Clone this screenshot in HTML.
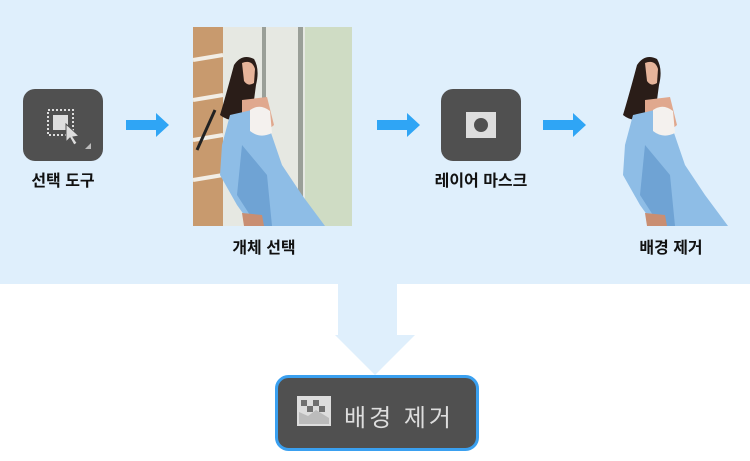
<!DOCTYPE html>
<html><head><meta charset="utf-8"><style>
html,body{margin:0;padding:0;background:#fff}
body{width:750px;height:461px;position:relative;overflow:hidden;font-family:"Liberation Sans","Noto Sans CJK KR",sans-serif}
.lbl{position:absolute;font-size:16px;font-weight:bold;color:#111;text-align:center;width:160px}
</style></head><body>
<svg width="750" height="461" style="position:absolute;left:0;top:0">
<defs>
<g id="fig">
 <path d="M22,10 Q30,-2 42,4 Q48,14 44,30 L40,60 Q20,70 8,60 Q14,40 22,10Z" fill="#2a1d18"/>
 <path d="M30,8 Q40,4 43,14 L42,28 Q36,32 32,26Z" fill="#e6b49a"/>
 <path d="M30,45 L55,42 L62,70 L50,80 L30,75Z" fill="#e0a88e"/>
 <path d="M18,60 L40,55 L58,75 L70,110 L90,140 L113,171 L40,171 L25,150 L8,120 L10,90Z" fill="#8ebde6"/>
 <path d="M30,90 L55,120 L60,171 L45,171 L25,140Z" fill="#6fa3d4"/>
 <path d="M38,55 Q48,48 58,56 L60,78 Q48,84 38,76Z" fill="#f4f1ee"/>
 <path d="M30,158 L50,160 L52,171 L32,171Z" fill="#c98e72"/>
</g>
</defs>
<rect x="0" y="0" width="750" height="284" fill="#dfeffc"/>
<rect x="23" y="89" width="80" height="72" rx="12" fill="#505050"/>
<rect x="48" y="110" width="25" height="25" fill="none" stroke="#ddd" stroke-width="2" stroke-dasharray="2,2"/>
<rect x="53" y="115" width="15" height="15" fill="#ddd"/>
<path d="M66,124 L66,142 L70,138 L74,145 L77,143 L73,137 L79,136Z" fill="#ddd" stroke="#505050" stroke-width="1"/>
<path d="M91,149 L91,143 L85,149Z" fill="#bbb"/>
<g fill="#2fa5f5">
<path d="M126,120 L156,120 L156,113 L169,125 L156,137 L156,130 L126,130Z"/>
<path d="M377,120 L407,120 L407,113 L420,125 L407,137 L407,130 L377,130Z"/>
<path d="M543,120 L573,120 L573,113 L586,125 L573,137 L573,130 L543,130Z"/>
</g>
<rect x="193" y="27" width="159" height="199" fill="#e6e8e2"/>
<rect x="193" y="27" width="30" height="199" fill="#c89a6e"/>
<g stroke="#f2eee6" stroke-width="4"><line x1="193" y1="60" x2="223" y2="55"/><line x1="193" y1="100" x2="223" y2="95"/><line x1="193" y1="140" x2="223" y2="135"/><line x1="193" y1="180" x2="223" y2="175"/></g>
<rect x="305" y="27" width="47" height="199" fill="#cfdcc4"/>
<rect x="262" y="27" width="4" height="199" fill="#9a9f98"/>
<rect x="298" y="27" width="5" height="199" fill="#9a9f98"/>
<line x1="197" y1="150" x2="215" y2="110" stroke="#222" stroke-width="3"/>
<use href="#fig" transform="translate(212,55)"/>
<rect x="441" y="89" width="80" height="72" rx="12" fill="#505050"/>
<rect x="466" y="112" width="30" height="26" fill="#ddd"/>
<circle cx="481" cy="125" r="7" fill="#505050"/>
<use href="#fig" transform="translate(615,55)"/>
<path d="M338,284 L397,284 L397,335 L415,335 L375,375 L335,335 L338,335Z" fill="#dfeffc"/>
<rect x="276.5" y="376.5" width="201" height="73" rx="12" fill="#505050" stroke="#3aa0f0" stroke-width="3"/>
<rect x="297" y="396" width="34" height="30" fill="#ddd"/>
<g fill="#707070"><rect x="301" y="400" width="6" height="6"/><rect x="313" y="400" width="6" height="6"/><rect x="307" y="406" width="6" height="6"/><rect x="319" y="406" width="6" height="6"/></g>
<path d="M299,424 L299,412 L308,416 L316,410 L329,418 L329,424Z" fill="#bbb"/>
</svg>
<div class="lbl" style="left:-17px;top:167px">선택 도구</div>
<div class="lbl" style="left:184px;top:234px">개체 선택</div>
<div class="lbl" style="left:401px;top:167px">레이어 마스크</div>
<div class="lbl" style="left:591px;top:234px">배경 제거</div>
<div style="position:absolute;left:344px;top:398px;font-size:24px;color:#ddd;letter-spacing:3px;font-family:'Liberation Sans','Noto Sans CJK KR',sans-serif">배경 제거</div>
</body></html>
